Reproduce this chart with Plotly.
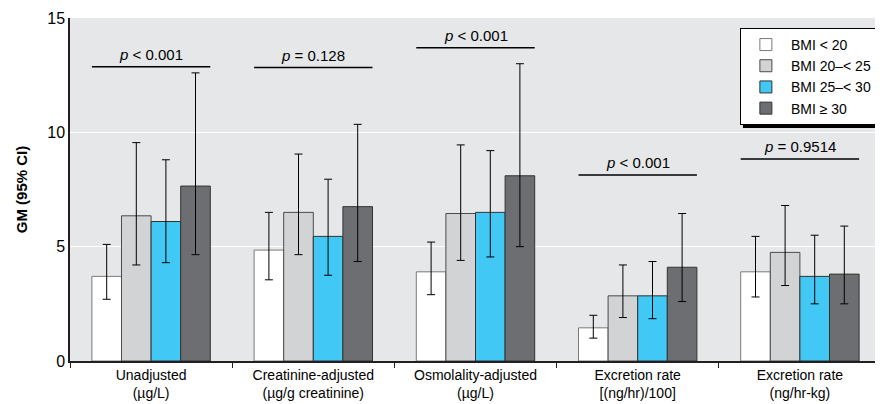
import plotly.graph_objects as go

categories = ["Unadjusted<br>(µg/L)", "Creatinine-adjusted<br>(µg/g creatinine)",
              "Osmolality-adjusted<br>(µg/L)", "Excretion rate<br>[(ng/hr)/100]",
              "Excretion rate<br>(ng/hr-kg)"]
series_names = ["BMI < 20", "BMI 20–< 25", "BMI 25–< 30", "BMI ≥ 30"]
gm = [
    [3.7, 4.85, 3.9, 1.45, 3.9],
    [6.35, 6.5, 6.45, 2.85, 4.75],
    [6.1, 5.45, 6.5, 2.85, 3.7],
    [7.65, 6.75, 8.1, 4.1, 3.8],
]
ci_low = [
    [2.7, 3.55, 2.9, 1.0, 2.8],
    [4.2, 4.65, 4.4, 1.9, 3.3],
    [4.3, 3.75, 4.55, 1.85, 2.5],
    [4.65, 4.35, 5.0, 2.6, 2.5],
]
ci_high = [
    [5.1, 6.5, 5.2, 2.0, 5.45],
    [9.55, 9.05, 9.45, 4.2, 6.8],
    [8.8, 7.95, 9.2, 4.35, 5.5],
    [12.6, 10.35, 13.0, 6.45, 5.9],
]
p_labels = ["<i>p</i> < 0.001", "<i>p</i> = 0.128", "<i>p</i> < 0.001",
            "<i>p</i> < 0.001", "<i>p</i> = 0.9514"]
p_levels = [12.87, 12.83, 13.7, 8.13, 8.83]

colors = ["#ffffff", "#d1d3d4", "#41c8f5", "#6d6e71"]
outline = ["#7a7a7a", "#4a4a4a", "#333333", "#333333"]
FONT = "Liberation Sans, Arial, sans-serif"

fig = go.Figure()
for i, name in enumerate(series_names):
    fig.add_trace(go.Bar(
        x=categories, y=gm[i], name=name,
        marker=dict(color=colors[i], line=dict(color=outline[i], width=1)),
        error_y=dict(type="data", symmetric=False,
                     array=[h - v for h, v in zip(ci_high[i], gm[i])],
                     arrayminus=[v - l for l, v in zip(ci_low[i], gm[i])],
                     color="black", thickness=1, width=4),
    ))

for k in range(len(categories)):
    fig.add_shape(type="line", xref="x", yref="y",
                  x0=k - 0.365, x1=k + 0.365, y0=p_levels[k], y1=p_levels[k],
                  line=dict(color="black", width=1.5))
    fig.add_annotation(x=k, y=p_levels[k], xref="x", yref="y", text=p_labels[k],
                       showarrow=False, yanchor="bottom", yshift=2,
                       font=dict(family=FONT, size=15, color="black"))

# legend shadow
fig.add_shape(type="rect", xref="paper", yref="paper",
              x0=0.8298, x1=0.9963, y0=0.679, y1=0.962,
              fillcolor="black", line=dict(width=0), layer="above")

fig.update_layout(
    width=875, height=396,
    margin=dict(l=62, r=2, t=10, b=43),
    paper_bgcolor="white", plot_bgcolor="#e6e7e8",
    barmode="group", bargap=0.27, bargroupgap=0,
    font=dict(family=FONT, size=15, color="black"),
    showlegend=True,
    legend=dict(x=0.826, y=0.971, xanchor="left", yanchor="top",
                bgcolor="white", bordercolor="black", borderwidth=1,
                font=dict(family=FONT, size=14), itemwidth=40),
    xaxis=dict(showline=True, linecolor="#231f20", linewidth=1.5,
               ticks="outside", tickson="boundaries", ticklen=5,
               tickcolor="#231f20", tickfont=dict(size=14), showgrid=False),
    yaxis=dict(range=[0, 15], tickvals=[0, 5, 10, 15], showline=True,
               linecolor="#231f20", linewidth=1.5, gridcolor="white",
               gridwidth=1, zeroline=False, tickfont=dict(size=16),
               title=dict(text="<b>GM (95% CI)</b>", font=dict(size=15), standoff=16)),
)

fig.write_html("out.html")
